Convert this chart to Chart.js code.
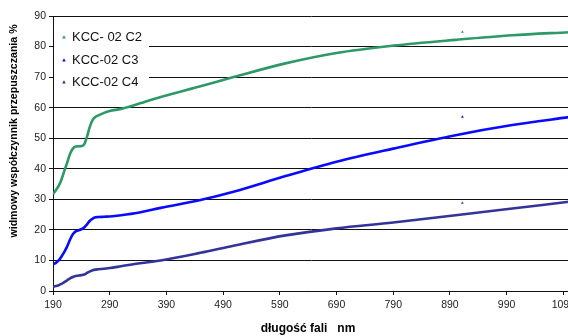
<!DOCTYPE html>
<html>
<head>
<meta charset="utf-8">
<script src="https://cdn.jsdelivr.net/npm/chart.js@4/dist/chart.umd.min.js"></script>
<style>
  html, body { margin: 0; padding: 0; background: #fff; overflow: hidden; }
  #wrap { position: relative; width: 600px; height: 336px; }
</style>
</head>
<body>
<div id="wrap"><canvas id="myChart"></canvas></div>
<script>
const dlugosc = [190, 195, 200, 205, 210, 215, 220, 225, 230, 240, 245, 250, 255, 260, 265, 270, 280, 290, 310, 340, 380, 450, 510, 600, 690, 790, 900, 1000, 1100];
const c2 = [31.7, 33.0, 34.4, 36.5, 39.3, 42.0, 44.8, 46.6, 47.3, 47.4, 48.0, 50.5, 53.8, 56.0, 57.0, 57.5, 58.3, 58.9, 59.6, 61.2, 63.5, 67.0, 70.1, 74.5, 77.9, 80.3, 82.2, 83.7, 84.7];
const c3 = [8.7, 9.2, 10.0, 11.3, 12.8, 14.6, 16.8, 18.6, 19.5, 20.2, 20.8, 21.8, 23.0, 23.7, 24.1, 24.2, 24.3, 24.4, 24.8, 25.6, 27.2, 29.8, 32.6, 37.6, 42.3, 46.6, 51.0, 54.3, 56.9];
const c4 = [1.4, 1.6, 1.9, 2.3, 2.9, 3.5, 4.1, 4.6, 4.9, 5.2, 5.4, 5.9, 6.4, 6.8, 7.0, 7.1, 7.3, 7.5, 8.1, 9.0, 10.0, 12.5, 14.9, 18.2, 20.5, 22.4, 24.8, 27.0, 29.2];

// pojedyncze znaczniki przy ~912 nm
const znacznikX = 912;
const znaczniki = [84.8, 57.0, 28.8];

const nazwy = ["KCC- 02 C2", "KCC-02 C3", "KCC-02 C4"];
const kolory = ["#2e9966", "#0a0aff", "#333399"];
const xTicks = [190, 290, 390, 490, 590, 690, 790, 890, 990, 1090];

Chart.defaults.font.family = "'Liberation Sans', Arial, sans-serif";
Chart.defaults.color = "#222";

function punkty(wartosci) {
  return dlugosc.map((x, i) => ({ x: x, y: wartosci[i] }));
}

const serie = [c2, c3, c4];
const datasets = [];
serie.forEach((s, i) => {
  datasets.push({
    label: nazwy[i],
    data: punkty(s),
    borderColor: kolory[i],
    backgroundColor: kolory[i],
    borderWidth: 2.6,
    pointRadius: 0,
    cubicInterpolationMode: "monotone",
  });
});
znaczniki.forEach((v, i) => {
  datasets.push({
    label: "",
    data: [{ x: znacznikX, y: v }],
    showLine: false,
    pointStyle: "triangle",
    pointRadius: 1.6,
    borderWidth: 0,
    backgroundColor: kolory[i],
    borderColor: kolory[i],
  });
});

const dodatki = {
  id: "dodatki",
  afterDatasetsDraw(chart) {
    const { ctx, chartArea } = chart;
    ctx.save();
    // legenda
    ctx.fillStyle = "#fff";
    ctx.fillRect(chartArea.left + 1, 24, 95, 72);
    ctx.font = "13px 'Liberation Sans', Arial, sans-serif";
    ctx.textBaseline = "middle";
    ctx.textAlign = "left";
    const ys = [37, 60, 82];
    nazwy.forEach((n, i) => {
      const y = ys[i];
      ctx.fillStyle = kolory[i];
      ctx.beginPath();
      ctx.moveTo(64, y - 1.8);
      ctx.lineTo(65.8, y + 1.4);
      ctx.lineTo(62.2, y + 1.4);
      ctx.closePath();
      ctx.fill();
      ctx.fillStyle = "#111";
      ctx.fillText(n, 72, y);
    });
    // tytuły osi
    ctx.fillStyle = "#000";
    ctx.font = "bold 12px 'Liberation Sans', Arial, sans-serif";
    ctx.textAlign = "center";
    ctx.fillText("długość fali   nm", 308, 329);
    ctx.translate(14, 131);
    ctx.rotate(-Math.PI / 2);
    ctx.font = "bold 10.6px 'Liberation Sans', Arial, sans-serif";
    ctx.fillText("widmowy współczynnik przepuszczania %", 0, 0);
    ctx.restore();
  },
};

const ctx = document.getElementById("myChart");
new Chart(ctx, {
  type: "line",
  data: { datasets: datasets },
  options: {
    responsive: true,
    maintainAspectRatio: false,
    animation: false,
    layout: { padding: { top: 16, right: 31, left: 0, bottom: 0 } },
    plugins: {
      legend: { display: false },
      tooltip: { enabled: false },
    },
    scales: {
      x: {
        type: "linear",
        min: 190,
        max: 1100,
        afterBuildTicks: (axis) => {
          axis.ticks = xTicks.map((v) => ({ value: v }));
        },
        afterFit: (scale) => {
          scale.height = 45;
        },
        ticks: {
          font: { size: 10.5 },
          padding: 4,
          maxRotation: 0,
          autoSkip: false,
          callback: (v) => String(v),
        },
        grid: {
          drawOnChartArea: false,
          tickLength: 4,
          color: "#111",
        },
        border: { color: "#111", width: 1 },
      },
      y: {
        min: 0,
        max: 90,
        afterFit: (scale) => {
          scale.width = 53;
        },
        ticks: { stepSize: 10, font: { size: 10.5 }, padding: 3, callback: (v) => String(v) },
        grid: { color: "#111", tickLength: 4 },
        border: { color: "#111", width: 1 },
      },
    },
  },
  plugins: [dodatki],
});
</script>
</body>
</html>
